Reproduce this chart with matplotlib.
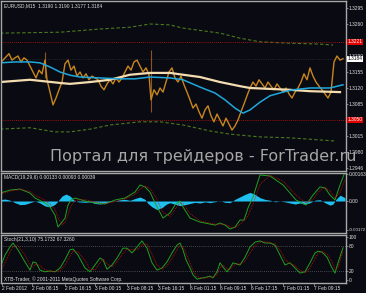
import matplotlib
matplotlib.use("Agg")
import matplotlib.pyplot as plt

# ---- main window: EURUSD M15 (bar index, price) ----
price_bars = [0, 3, 6, 9, 12, 15, 18, 21, 24, 27, 30, 33, 36, 39, 42, 45, 47, 50, 53, 56,
              59, 62, 65, 68, 71, 74, 77, 80, 83, 86, 89, 92, 95, 98, 101, 104, 107, 110, 113, 116,
              119, 122, 125, 128, 131, 134, 137, 140, 143, 146, 149, 151, 154, 157, 160, 163, 166, 169, 172, 175,
              178, 181, 184, 187, 190, 193, 196, 199, 202, 205, 208, 211, 214, 217, 220, 223, 226, 229, 232, 235,
              238, 241, 244, 247, 250, 253, 256, 259, 262, 265, 268, 271, 274, 277, 280, 283, 286, 289, 292, 295,
              298, 301, 304, 307, 310, 313, 316, 319, 322, 325, 328, 331, 334, 337, 340, 343]
close = [1.3175, 1.3181, 1.3188, 1.3195, 1.3181, 1.3186, 1.3190, 1.3177, 1.3186, 1.3181,
         1.3168, 1.3155, 1.3142, 1.3159, 1.3151, 1.3181, 1.3138, 1.3111, 1.3083, 1.3098,
         1.3116, 1.3133, 1.3173, 1.3181, 1.3159, 1.3168, 1.3146, 1.3155, 1.3142, 1.3151,
         1.3138, 1.3146, 1.3142, 1.3138, 1.3124, 1.3116, 1.3129, 1.3138, 1.3129, 1.3142,
         1.3133, 1.3142, 1.3155, 1.3168, 1.3159, 1.3177, 1.3181, 1.3168, 1.3155, 1.3164,
         1.3149, 1.3094, 1.3116, 1.3105, 1.3120, 1.3111, 1.3133, 1.3155, 1.3164, 1.3142,
         1.3133, 1.3146, 1.3127, 1.3111, 1.3094, 1.3076, 1.3085, 1.3068, 1.3054, 1.3072,
         1.3081, 1.3059, 1.3046, 1.3063, 1.3050, 1.3037, 1.3054, 1.3041, 1.3028, 1.3037,
         1.3050, 1.3068, 1.3085, 1.3103, 1.3120, 1.3133, 1.3124, 1.3138, 1.3129, 1.3120,
         1.3133, 1.3124, 1.3116, 1.3129, 1.3120, 1.3111, 1.3120, 1.3107, 1.3098, 1.3111,
         1.3120, 1.3133, 1.3151, 1.3138, 1.3164, 1.3146, 1.3133, 1.3124, 1.3116, 1.3107,
         1.3098, 1.3111, 1.3177, 1.3190, 1.3181, 1.3184]
spike_bars = [45, 151]
spike_high = [1.3199, 1.3203]
spike_low = [1.3142, 1.3068]

fast_bars = [0, 15, 30, 40, 50, 60, 70, 80, 100, 120, 135, 150, 170, 183, 200, 215, 225, 235,
             243, 250, 260, 270, 283, 293, 310, 330, 343]
fast_ma = [1.3175, 1.3177, 1.3177, 1.3175, 1.3166, 1.3155, 1.3148, 1.3144, 1.3142, 1.3140,
           1.3140, 1.3144, 1.3142, 1.3138, 1.3122, 1.3109, 1.3094, 1.3076, 1.3065, 1.3072,
           1.3089, 1.3103, 1.3111, 1.3116, 1.3120, 1.3120, 1.3127]

slow_bars = [0, 30, 60, 70, 90, 110, 130, 150, 170, 183, 200, 220, 240, 250, 270, 290, 310, 340]
slow_ma = [1.3133, 1.3138, 1.3131, 1.3129, 1.3133, 1.3138, 1.3149, 1.3153, 1.3153, 1.3149,
           1.3144, 1.3133, 1.3124, 1.3120, 1.3118, 1.3116, 1.3113, 1.3111]

env_up_bars = [0, 60, 100, 130, 150, 170, 183, 220, 240, 260, 290, 320, 333]
env_up = [1.3240, 1.3242, 1.3249, 1.3253, 1.3260, 1.3258, 1.3251, 1.3240, 1.3229, 1.3221,
          1.3218, 1.3216, 1.3214]
env_dn_bars = [0, 30, 55, 70, 90, 110, 140, 160, 183, 210, 230, 260, 290, 335]
env_dn = [1.3030, 1.3033, 1.3024, 1.3024, 1.3030, 1.3039, 1.3046, 1.3046, 1.3039, 1.3026,
          1.3019, 1.3013, 1.3011, 1.3004]

levels = [1.3221, 1.3050]
bid = 1.3184
price_ticks = [1.3295, 1.3260, 1.3190, 1.3155, 1.3120, 1.3085, 1.3015, 1.2980, 1.2946]
price_tick_labels = ["1.3295", "1.3260", "1.3190", "1.3155", "1.3120", "1.3085", "1.3015", "1.2980", "1.2946"]

# ---- MACD window ----
macd_bars = [0, 10, 20, 30, 35, 45, 50, 55, 58, 62, 65, 68, 71, 75, 85, 95, 105, 115, 125, 135,
             140, 145, 150, 156, 163, 170, 175, 180, 183, 190, 200, 215, 220, 225, 230, 235, 240, 244, 248, 253,
             260, 270, 283, 296, 306, 313, 320, 325, 330, 335, 340, 345]
macd_main = [0.00048, 0.00066, 0.00072, 0.00048, 0.00018, -0.00012, -0.00036, -0.00085, -0.00157, -0.00127,
             -0.00103, -0.00024, 0.00006, 0.00018, 0.0, -0.00012, -0.00018, 0.00006, 0.00018, 0.00054,
             0.00097, 0.00085, 0.00054, -0.00024, -0.00103, -0.00072, -0.00024, 0.0, -0.00036, -0.00103,
             -0.00127, -0.00145, -0.00133, -0.00145, -0.00169, -0.00157, -0.00115, -0.00115, -0.00042, 0.00024,
             0.00157, 0.00151, 0.00097, 0.00006, -0.00024, 0.00036, 0.00085, 0.00079, 0.00036, 0.00006,
             0.00097, 0.00175]
macd_signal = [0.00040, 0.00060, 0.00070, 0.00058, 0.00035, 0.00005, -0.00020, -0.00050, -0.00100, -0.00145,
               -0.00130, -0.00085, -0.00030, 0.00005, 0.00008, -0.00006, -0.00015, -0.00004, 0.00012, 0.00040,
               0.00070, 0.00092, 0.00075, 0.00020, -0.00070, -0.00092, -0.00050, -0.00012, -0.00015, -0.00075,
               -0.00120, -0.00140, -0.00140, -0.00140, -0.00155, -0.00163, -0.00140, -0.00118, -0.00090, -0.00020,
               0.00100, 0.00155, 0.00120, 0.00035, -0.00012, 0.00010, 0.00065, 0.00083, 0.00060, 0.00020,
               0.00050, 0.00130]
hist_bars = [0, 5, 10, 15, 20, 25, 30, 35, 40, 45, 50, 55, 58, 62, 66, 70, 74, 78, 85, 90,
             95, 100, 105, 110, 115, 120, 125, 130, 135, 140, 145, 148, 152, 157, 162, 166, 170, 175, 180, 185,
             190, 195, 200, 205, 210, 215, 220, 225, 230, 235, 240, 245, 250, 255, 260, 265, 270, 275, 280, 285,
             290, 295, 300, 305, 310, 315, 320, 325, 330, 333, 336, 340, 345]
hist = [0.00008, 0.00012, 0.00005, -0.00010, -0.00022, -0.00020, -0.00010, 0.0, -0.00012, -0.00030,
        -0.00036, -0.00020, 0.0, 0.00030, 0.00042, 0.00030, 0.00005, -0.00005, -0.00008, -0.00005,
        -0.00015, -0.00018, -0.00012, -0.00004, 0.0, 0.00008, 0.00010, 0.00004, 0.00015, 0.00024,
        0.00010, -0.00015, -0.00035, -0.00052, -0.00040, -0.00020, -0.00010, -0.00020, -0.00028, -0.00022,
        -0.00015, -0.00008, -0.00012, -0.00005, -0.00010, -0.00004, 0.00002, -0.00008, -0.00010, 0.00010,
        0.00025, 0.00040, 0.00052, 0.00040, 0.00020, 0.00010, 0.00005, -0.00005, 0.0, -0.00005,
        -0.00012, -0.00018, -0.00012, -0.00020, -0.00010, 0.00005, 0.00008, -0.00010, -0.00025, -0.00018,
        0.00010, 0.00035, 0.00020]

# ---- Stochastic window ----
stoch_bars = [0, 5, 10, 13, 18, 25, 30, 33, 36, 40, 45, 50, 55, 60, 65, 70, 73, 78, 85, 90,
              95, 100, 103, 107, 112, 117, 123, 127, 132, 137, 142, 147, 152, 157, 162, 167, 172, 177, 180, 183,
              186, 190, 193, 197, 203, 207, 210, 213, 217, 220, 223, 227, 230, 233, 237, 240, 245, 250, 255, 260,
              265, 270, 275, 280, 285, 290, 295, 300, 305, 310, 315, 318, 322, 327, 332, 335, 338, 343]
stoch_main = [28, 58, 77, 86, 70, 42, 23, 42, 40, 23, 19, 21, 19, 28, 47, 70, 72, 58, 28, 19,
              35, 51, 47, 25, 35, 51, 74, 74, 63, 77, 91, 74, 40, 23, 28, 42, 63, 81, 86, 70,
              47, 28, 12, 2, 5, 7, 9, 5, 19, 40, 30, 19, 28, 40, 37, 35, 53, 77, 88, 91,
              86, 86, 81, 58, 35, 40, 28, 16, 19, 40, 63, 67, 65, 53, 28, 16, 40, 75]
stoch_signal = [22, 40, 65, 78, 80, 58, 35, 30, 38, 33, 24, 20, 20, 22, 35, 55, 68, 66, 45, 25,
                24, 40, 48, 38, 30, 42, 62, 72, 70, 70, 82, 84, 60, 35, 25, 33, 50, 70, 80, 78,
                62, 40, 22, 8, 4, 5, 7, 7, 12, 28, 34, 26, 24, 33, 38, 37, 44, 63, 80, 88,
                89, 87, 84, 70, 48, 38, 34, 22, 17, 28, 50, 62, 66, 60, 42, 25, 28, 67]

time_bars = [2, 32, 65, 95, 127, 158, 190, 220, 251, 283, 314]
time_labels = ["2 Feb 2012", "2 Feb 08:15", "2 Feb 16:15", "3 Feb 00:15", "3 Feb 08:15", "3 Feb 16:15",
               "6 Feb 01:15", "6 Feb 09:15", "6 Feb 17:15", "7 Feb 01:15", "7 Feb 09:15"]

BG = "#0a0a12"
FRAME = "#a8a8a8"
TXT = "#e0e0e0"
SMALL = ["Liberation Sans", "DejaVu Sans"]
FS = 3.5
W, H = 366, 293


def panel(top, bottom):
    ax = fig.add_axes([1 / W, 1 - bottom / H, 345 / W, (bottom - top) / H])
    ax.set_facecolor(BG)
    for s in ax.spines.values():
        s.set_color(FRAME)
        s.set_linewidth(1.0)
    ax.set_xlim(1, 346)
    ax.tick_params(axis="y", left=False, labelleft=False, right=True, labelright=True,
                   length=1.5, width=0.5, colors=FRAME, labelcolor=TXT, labelsize=FS, pad=0.6)
    ax.tick_params(axis="x", bottom=False, labelbottom=False)
    return ax


def small_labels(ax):
    for lab in ax.get_yticklabels() + ax.get_xticklabels():
        lab.set_family(SMALL)


fig = plt.figure(figsize=(W / 100, H / 100), dpi=100, facecolor=BG)

# main price window
ax1 = panel(1, 171)
ax1.set_ylim(1.29384, 1.33103)
ax1.plot(env_up_bars, env_up, color="#4c7a1c", lw=0.8, dashes=(3, 2))
ax1.plot(env_dn_bars, env_dn, color="#4c7a1c", lw=0.8, dashes=(3, 2))
for lv in levels:
    ax1.axhline(lv, color="#cc1010", lw=0.6, ls=(0, (1, 1.5)))
ax1.axhline(bid, color="#606060", lw=0.4, ls=(0, (1, 3)))
ax1.vlines(spike_bars, spike_low, spike_high, color="#8a5520", lw=0.8)
ax1.plot(price_bars, close, color="#c8861e", lw=1.0)
ax1.plot(slow_bars, slow_ma, color="#f3dcb0", lw=1.6)
ax1.plot(fast_bars, fast_ma, color="#1fa8dc", lw=1.1)
ax1.set_yticks(price_ticks)
ax1.set_yticklabels(price_tick_labels)
small_labels(ax1)
ytr = ax1.get_yaxis_transform()
for lv in levels:
    ax1.text(1.005, lv, f"{lv:.4f}", transform=ytr, fontsize=FS, color="#ffffff", family=SMALL,
             ha="left", va="center",
             bbox=dict(boxstyle="square,pad=0.15", fc="#e00000", ec="none"))
ax1.text(1.005, bid, f"{bid:.4f}", transform=ytr, fontsize=FS, color="#000000", family=SMALL,
         ha="left", va="center",
         bbox=dict(boxstyle="square,pad=0.15", fc="#ffffff", ec="none"))
ax1.text(0.008, 0.985, "EURUSD,M15  1.3190 1.3190 1.3177 1.3184", transform=ax1.transAxes,
         fontsize=FS, color=TXT, family=SMALL, ha="left", va="top")

# MACD window
ax2 = panel(173, 233)
ax2.set_ylim(-0.00193, 0.00169)
ax2.fill_between(hist_bars, 0, hist, color="#1ec0f0", lw=0)
ax2.plot(macd_bars, macd_main, color="#20a020", lw=0.7)
ax2.plot(macd_bars, macd_signal, color="#d01010", lw=0.6, ls=(0, (1, 1.2)))
ax2.set_yticks([0.00163, 0.0, -0.00172])
ax2.set_yticklabels(["0.00163", "0.00", "-0.00172"])
small_labels(ax2)
ax2.get_yticklabels()[-1].set_fontsize(3.2)
ax2.text(0.008, 0.96, "MACD(19,29,6) 0.00133 0.00093 0.00039", transform=ax2.transAxes,
         fontsize=FS, color=TXT, family=SMALL, ha="left", va="top")

# Stochastic window
ax3 = panel(235, 283)
ax3.set_ylim(-7, 104.7)
for lv in (80, 20):
    ax3.axhline(lv, color="#808080", lw=0.5, ls=(0, (1, 2)))
ax3.plot(stoch_bars, stoch_main, color="#20a020", lw=0.7)
ax3.plot(stoch_bars, stoch_signal, color="#d01010", lw=0.6, ls=(0, (1, 1.2)))
ax3.set_yticks([100, 80, 20, 0])
ax3.set_yticklabels(["100", "80", "20", "0"])
ax3.text(0.008, 0.95, "Stoch(21,3,10) 75.1732 67.3260", transform=ax3.transAxes,
         fontsize=FS, color=TXT, family=SMALL, ha="left", va="top")
ax3.text(0.008, 0.03, "XTB-Trader, \u00a9 2001-2011 MetaQuotes Software Corp.", transform=ax3.transAxes,
         fontsize=FS, color=TXT, family=SMALL, ha="left", va="bottom")
ax3.set_xticks(time_bars)
ax3.set_xticklabels(time_labels, ha="left")
ax3.tick_params(axis="x", bottom=True, labelbottom=True, length=2, width=0.5,
                colors=FRAME, labelcolor=TXT, labelsize=FS, pad=0.5)
small_labels(ax3)

# watermark
fig.text(50 / W, 1 - 157 / H, "Портал для трейдеров - ForTrader.ru", fontsize=11.5,
         color="#a6a6a6", ha="left", va="center")

fig.savefig("out.png", dpi=100, facecolor=BG)
